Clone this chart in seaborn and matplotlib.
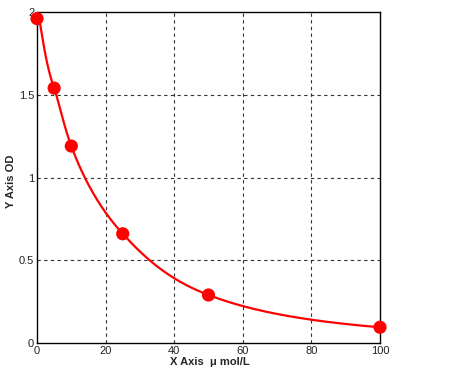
import numpy as np
import pandas as pd
import seaborn as sns
import matplotlib
matplotlib.use("Agg")
import matplotlib.pyplot as plt

conc = [0, 5, 10, 25, 50, 100]
od = [1.96, 1.54, 1.19, 0.66, 0.29, 0.095]
x_ticks = [0, 20, 40, 60, 80, 100]
y_ticks = [0, 0.5, 1, 1.5, 2]
y_tick_labels = ["0", "0.5", "1", "1.5", "2"]


def pchip(x, y, xs):
    x = np.asarray(x, float); y = np.asarray(y, float)
    h = np.diff(x); d = np.diff(y) / h
    n = len(x); m = np.zeros(n)
    for k in range(1, n - 1):
        if d[k - 1] * d[k] > 0:
            w1 = 2 * h[k] + h[k - 1]; w2 = h[k] + 2 * h[k - 1]
            m[k] = (w1 + w2) / (w1 / d[k - 1] + w2 / d[k])
    m[0] = ((2 * h[0] + h[1]) * d[0] - h[0] * d[1]) / (h[0] + h[1])
    m[-1] = ((2 * h[-1] + h[-2]) * d[-1] - h[-1] * d[-2]) / (h[-1] + h[-2])
    idx = np.clip(np.searchsorted(x, xs) - 1, 0, n - 2)
    t = (xs - x[idx]) / h[idx]
    h00 = 2 * t**3 - 3 * t**2 + 1; h10 = t**3 - 2 * t**2 + t
    h01 = -2 * t**3 + 3 * t**2; h11 = t**3 - t**2
    return h00 * y[idx] + h10 * h[idx] * m[idx] + h01 * y[idx + 1] + h11 * h[idx] * m[idx + 1]


xs = np.linspace(min(conc), max(conc), 400)
curve = pd.DataFrame({"x": xs, "y": pchip(np.log1p(conc), np.log(od), np.log1p(xs))})
curve["y"] = np.exp(curve["y"])
pts = pd.DataFrame({"x": conc, "y": od})

sns.set_style("white")
plt.rcParams["font.family"] = ["Liberation Sans", "DejaVu Sans"]

fig = plt.figure(figsize=(4.58, 3.85), dpi=100)
ax = fig.add_axes([37 / 458, (385 - 343) / 385, 343 / 458, 331 / 385])
sns.lineplot(data=curve, x="x", y="y", ax=ax, color="#ff0000", linewidth=1.6)
sns.scatterplot(data=pts, x="x", y="y", ax=ax, color="#ff0000", s=90, edgecolor="none", zorder=5, clip_on=False)

ax.set_xlim(0, 100)
ax.set_ylim(0, 2)
ax.set_xticks(x_ticks)
ax.set_yticks(y_ticks)
ax.set_yticklabels(y_tick_labels)
ax.tick_params(length=0, labelsize=8, pad=2, colors="#222222")
for v in x_ticks[1:-1]:
    ax.axvline(v, color="#333333", linestyle=(0, (3, 3)), linewidth=0.8, zorder=0)
for v in y_ticks[1:-1]:
    ax.axhline(v, color="#333333", linestyle=(0, (3, 3)), linewidth=0.8, zorder=0)
for s in ax.spines.values():
    s.set_color("black"); s.set_linewidth(1.0); s.set_visible(True)
ax.set_xlabel("X Axis  \u03bc mol/L", fontsize=8, fontweight="bold")
ax.set_ylabel("Y Axis OD", fontsize=8, fontweight="bold")
ax.xaxis.set_label_coords(0.505, -0.043)
ax.yaxis.set_label_coords(-0.062, 0.49)
fig.savefig("out.png", dpi=100, facecolor="white")
